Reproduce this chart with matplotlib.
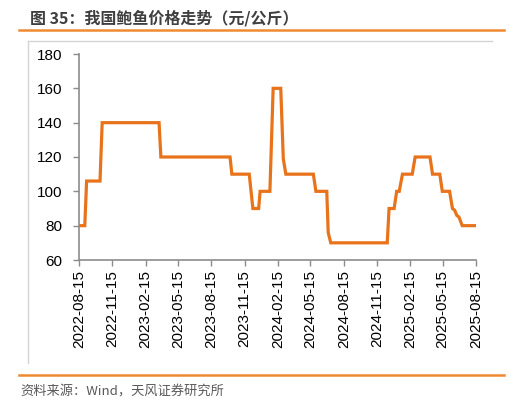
import matplotlib
matplotlib.use("Agg")
import matplotlib.pyplot as plt
import matplotlib.dates as mdates
from matplotlib.lines import Line2D
import pandas as pd

plt.rcParams['font.family'] = ['Liberation Sans', 'Noto Sans CJK SC', 'DejaVu Sans']

# 鲍鱼价格（元/公斤），按图中转折点读取
dates = ["2022-08-15", "2022-08-31", "2022-09-05", "2022-10-12", "2022-10-18",
         "2023-03-24", "2023-03-29", "2023-10-06", "2023-10-11", "2023-11-28",
         "2023-12-08", "2023-12-24", "2023-12-28", "2024-01-24", "2024-02-02",
         "2024-02-23", "2024-03-01", "2024-03-08", "2024-05-23", "2024-05-30",
         "2024-06-29", "2024-07-03", "2024-07-10", "2024-12-13", "2024-12-18",
         "2025-01-01", "2025-01-08", "2025-01-15", "2025-01-24", "2025-02-20",
         "2025-02-28", "2025-04-10", "2025-04-17", "2025-05-07", "2025-05-14",
         "2025-06-03", "2025-06-11", "2025-06-17", "2025-06-23", "2025-06-29",
         "2025-07-08", "2025-08-15"]
prices = [80, 80, 106, 106, 140,
          140, 120, 120, 110, 110,
          90, 90, 100, 100, 160,
          160, 119, 110, 110, 100,
          100, 76, 70, 70, 90,
          90, 100, 100, 110, 110,
          120, 120, 110, 110, 100,
          100, 90, 89, 86, 85,
          80, 80]
tick_dates = ["2022-08-15", "2022-11-15", "2023-02-15", "2023-05-15", "2023-08-15",
              "2023-11-15", "2024-02-15", "2024-05-15", "2024-08-15", "2024-11-15",
              "2025-02-15", "2025-05-15", "2025-08-15"]
y_ticks = [60, 80, 100, 120, 140, 160, 180]

title = "图 35：我国鲍鱼价格走势（元/公斤）"
source = "资料来源：Wind，天风证券研究所"

x = pd.to_datetime(dates)
ticks = pd.to_datetime(tick_dates)

fig = plt.figure(figsize=(5.09, 4.04), dpi=100)
ax = fig.add_axes([79 / 509, 1 - 260 / 404, 397 / 509, 206 / 404])

ax.plot(x, prices, color="#E8731A", lw=2.3, solid_joinstyle="miter")

ax.set_xlim(ticks[0], ticks[-1])
ax.set_ylim(60, 180)
ax.set_yticks(y_ticks)
ax.set_xticks(ticks)
ax.set_xticklabels(tick_dates, rotation=90)
ax.tick_params(axis="both", labelsize=11, color="#8c8c8c", length=4, width=1, direction="out")
ax.tick_params(axis="x", pad=3)
ax.tick_params(axis="y", pad=8)

for s in ["top", "right"]:
    ax.spines[s].set_visible(False)
for s in ["left", "bottom"]:
    ax.spines[s].set_color("#8c8c8c")
    ax.spines[s].set_linewidth(1.2)

# 标题和装饰线
fig.text(30 / 509, 1 - 18 / 404, title, fontsize=11.5, fontweight="bold",
         color="#3f3f3f", va="center", ha="left",
         family=["Noto Sans CJK SC", "DejaVu Sans"])
fig.add_artist(Line2D([19 / 509, 504 / 509], [1 - 30 / 404] * 2, color="#F08A32", lw=1.8))
fig.add_artist(Line2D([28 / 509, 492 / 509], [1 - 41 / 404] * 2, color="#d4d4d4", lw=1))
fig.add_artist(Line2D([28 / 509] * 2, [1 - 41 / 404, 1 - 363 / 404], color="#d4d4d4", lw=1))
fig.add_artist(Line2D([19 / 509, 504 / 509], [1 - 375 / 404] * 2, color="#F08A32", lw=1.8))
fig.text(20 / 509, 1 - 392 / 404, source, fontsize=9.5, color="#595959",
         va="center", ha="left", family=["Noto Sans CJK SC", "DejaVu Sans"])

fig.savefig("out.png", dpi=100)
